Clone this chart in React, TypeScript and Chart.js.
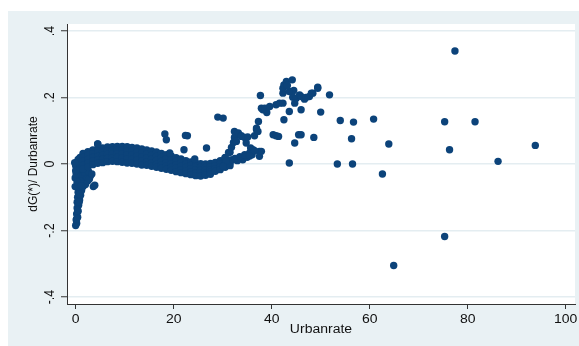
import React, { useEffect, useRef } from "react";
import { Chart, registerables } from "chart.js";

Chart.register(...registerables);

// ---- text / ticks ----
const xTickValues = [0, 20, 40, 60, 80, 100];
const xTickLabels = ["0", "20", "40", "60", "80", "100"];
const yTickValues = [-0.4, -0.2, 0, 0.2, 0.4];
const yTickLabels = ["-.4", "-.2", "0", ".2", ".4"];
const xTitle = "Urbanrate";
const yTitle = "dG(*)/ Durbanrate";

// ---- data: [Urbanrate, dG(*)/Durbanrate] ----
const steepPoints: [number, number][] = [
  [0.0, -0.185], [0.2, -0.178], [0.1, -0.168], [0.4, -0.16], [0.2, -0.15], [0.5, -0.142],
  [0.3, -0.132], [0.6, -0.124], [0.3, -0.115], [0.8, -0.108], [0.4, -0.1], [1.0, -0.094],
  [0.5, -0.085], [1.2, -0.08], [0.6, -0.072], [1.5, -0.068], [2.0, -0.062], [0.8, -0.06],
  [1.8, -0.052], [2.5, -0.05], [0.9, -0.048], [1.4, -0.04], [2.2, -0.038], [3.0, -0.036],
  [1.1, -0.03], [1.8, -0.025], [2.6, -0.022], [-0.1, -0.042], [-0.1, -0.068], [0.3, -0.055],
  [3.6, -0.068], [3.9, -0.064], [0.1, -0.03], [0.2, -0.018], [0.0, -0.005], [0.4, 0.006],
  [0.5, 0.014], [0.9, 0.02], [1.0, 0.008], [0.9, -0.004], [0.8, -0.016], [1.2, -0.012],
  [2.8, -0.045], [3.3, -0.03], [0.6, -0.09], [0.4, -0.14], [0.2, -0.165], [0.7, -0.115],
  [1.1, -0.065], [0.0, -0.02], [-0.2, 0.004],
];

const bandPoints: [number, number][] = [
  [1.5, 0.032], [1.5, 0.02], [1.5, 0.008], [1.5, -0.004], [1.5, -0.015],
  [2.5, 0.037], [2.5, 0.026], [2.5, 0.014], [2.5, 0.003], [2.5, -0.008],
  [3.5, 0.042], [3.5, 0.031], [3.5, 0.02], [3.5, 0.009], [3.5, -0.002],
  [4.5, 0.06], [4.5, 0.046], [4.5, 0.034], [4.5, 0.023], [4.5, 0.012], [4.5, 0.002],
  [5.5, 0.048], [5.5, 0.037], [5.5, 0.026], [5.5, 0.015], [5.5, 0.004],
  [6.5, 0.051], [6.5, 0.04], [6.5, 0.029], [6.5, 0.018], [6.5, 0.007],
  [7.5, 0.052], [7.5, 0.041], [7.5, 0.03], [7.5, 0.019], [7.5, 0.008],
  [8.5, 0.053], [8.5, 0.042], [8.5, 0.031], [8.5, 0.02], [8.5, 0.007],
  [9.5, 0.053], [9.5, 0.042], [9.5, 0.03], [9.5, 0.018], [9.5, 0.005],
  [10.5, 0.052], [10.5, 0.04], [10.5, 0.028], [10.5, 0.016], [10.5, 0.003],
  [11.5, 0.05], [11.5, 0.039], [11.5, 0.027], [11.5, 0.014], [11.5, 0.002],
  [12.5, 0.048], [12.5, 0.036], [12.5, 0.024], [12.5, 0.012], [12.5, 0.0],
  [13.5, 0.045], [13.5, 0.033], [13.5, 0.021], [13.5, 0.009], [13.5, -0.003],
  [14.5, 0.042], [14.5, 0.03], [14.5, 0.018], [14.5, 0.006], [14.5, -0.004],
  [15.5, 0.039], [15.5, 0.027], [15.5, 0.015], [15.5, 0.003], [15.5, -0.007],
  [16.5, 0.036], [16.5, 0.024], [16.5, 0.012], [16.5, 0.0], [16.5, -0.01],
  [17.5, 0.032], [17.5, 0.02], [17.5, 0.008], [17.5, -0.003], [17.5, -0.013],
  [18.5, 0.028], [18.5, 0.016], [18.5, 0.004], [18.5, -0.006], [18.5, -0.016],
  [19.5, 0.024], [19.5, 0.012], [19.5, 0.0], [19.5, -0.01], [19.5, -0.019],
  [20.5, 0.019], [20.5, 0.008], [20.5, -0.003], [20.5, -0.013], [20.5, -0.023],
  [21.5, 0.015], [21.5, 0.004], [21.5, -0.007], [21.5, -0.017], [21.5, -0.026],
  [22.5, 0.01], [22.5, 0.0], [22.5, -0.01], [22.5, -0.02], [22.5, -0.029],
  [23.5, 0.006], [23.5, -0.004], [23.5, -0.014], [23.5, -0.024], [23.5, -0.032],
  [24.5, 0.003], [24.5, -0.007], [24.5, -0.017], [24.5, -0.027], [24.5, -0.035],
  [25.5, 0.001], [25.5, -0.009], [25.5, -0.019], [25.5, -0.028], [25.5, -0.036],
  [26.5, 0.0], [26.5, -0.01], [26.5, -0.019], [26.5, -0.028], [26.5, -0.034],
  [27.5, 0.002], [27.5, -0.008], [27.5, -0.017], [27.5, -0.025], [27.5, -0.031],
  [28.5, 0.005], [28.5, -0.005], [28.5, -0.014], [28.5, -0.022],
  [29.5, 0.01], [29.5, 0.0], [29.5, -0.009], [29.5, -0.017],
  [30.5, 0.018], [30.5, 0.006], [30.5, -0.003], [30.5, -0.01],
  [31.5, 0.035], [31.5, 0.012], [31.5, 0.003], [31.5, -0.005],
];

const risePoints: [number, number][] = [
  [30.5, 0.02], [31.2, 0.035], [31.8, 0.05], [32.2, 0.065], [32.4, 0.08], [32.4, 0.098],
  [33.2, 0.093], [33.8, 0.085], [34.5, 0.08], [34.8, 0.063], [35.1, 0.081], [33.8, 0.083],
  [35.7, 0.048], [36.2, 0.043], [36.5, 0.085], [36.9, 0.103], [36.9, 0.108], [37.2, 0.098],
  [37.3, 0.128], [37.5, 0.038], [37.5, 0.023], [37.9, 0.038], [32.8, 0.068], [34.1, 0.013],
  [32.1, 0.013], [30.7, 0.008], [30.1, -0.007], [35.0, 0.02], [36.0, 0.028], [33.0, 0.01],
  [32.5, 0.017], [33.5, 0.022], [34.5, 0.028], [35.5, 0.033], [36.5, 0.04], [35.5, 0.024],
];

const upperPoints: [number, number][] = [
  [37.7, 0.206], [37.9, 0.168], [38.2, 0.163], [38.6, 0.168], [39.0, 0.155], [39.6, 0.173],
  [40.9, 0.178], [41.6, 0.183], [42.3, 0.183], [40.3, 0.088], [40.9, 0.085], [41.4, 0.083],
  [42.3, 0.213], [42.3, 0.228], [42.5, 0.238], [43.0, 0.248], [44.2, 0.253], [44.5, 0.221],
  [44.3, 0.201], [45.0, 0.198], [45.7, 0.208], [46.0, 0.203], [46.7, 0.195], [47.7, 0.203],
  [48.4, 0.213], [48.1, 0.213], [49.4, 0.231], [49.4, 0.228], [51.8, 0.208], [44.7, 0.183],
  [43.6, 0.158], [46.0, 0.163], [50.0, 0.156], [42.5, 0.133], [45.5, 0.088], [44.7, 0.063],
  [48.6, 0.08], [43.6, 0.003], [46.0, 0.088], [43.6, 0.218], [43.2, 0.236], [47.0, 0.2],
  [29.0, 0.141], [30.1, 0.138], [18.2, 0.09], [18.5, 0.073], [22.8, 0.085], [22.4, 0.086],
  [22.1, 0.043], [26.7, 0.048], [19.2, 0.033], [24.3, 0.015], [4.5, 0.06],
];

const outlierPoints: [number, number][] = [
  [54.0, 0.131], [56.7, 0.126], [60.8, 0.135], [56.3, 0.076], [53.4, 0.0], [56.5, 0.0],
  [77.4, 0.34], [75.3, 0.127], [81.5, 0.127], [63.9, 0.06], [76.3, 0.043], [93.8, 0.056],
  [86.2, 0.008], [62.6, -0.03], [75.3, -0.218], [64.9, -0.305],
];

const NAVY = "#0c437a";
const BG = "#e9f1f4";
const GRID = "#e4edf1";
const AXIS = "#333333";
const TEXT = "#111111";
const SX = 1.12;

export default function App() {
  const ref = useRef<HTMLCanvasElement | null>(null);

  useEffect(() => {
    const canvas = ref.current;
    if (!canvas) return;

    const all = [...steepPoints, ...bandPoints, ...risePoints, ...upperPoints, ...outlierPoints];

    const stataPlugin = {
      id: "stataLook",
      beforeDraw(chart: any) {
        const { ctx, chartArea: a, width, height } = chart;
        ctx.save();
        ctx.fillStyle = "#ffffff";
        ctx.fillRect(0, 0, width, height);
        ctx.fillStyle = BG;
        ctx.fillRect(8, 11, width - 8, height - 11);
        ctx.fillStyle = "#ffffff";
        ctx.fillRect(a.left, a.top, a.right - a.left, a.bottom - a.top);
        ctx.restore();
      },
      afterDraw(chart: any) {
        const { ctx, chartArea: a } = chart;
        const xs = chart.scales.x;
        const ys = chart.scales.y;
        ctx.save();
        ctx.fillStyle = TEXT;
        ctx.font = '12.5px "Liberation Sans", Arial, sans-serif';
        ctx.textAlign = "center";
        ctx.textBaseline = "alphabetic";
        xTickValues.forEach((v, i) => {
          const px = xs.getPixelForValue(v);
          ctx.save();
          ctx.translate(px, 323);
          ctx.scale(SX, 1);
          ctx.fillText(xTickLabels[i], 0, 0);
          ctx.restore();
        });
        ctx.save();
        ctx.translate((a.left + a.right) / 2, 333);
        ctx.scale(SX, 1);
        ctx.fillText(xTitle, 0, 0);
        ctx.restore();

        yTickValues.forEach((v, i) => {
          const py = ys.getPixelForValue(v);
          ctx.save();
          ctx.translate(54, py);
          ctx.scale(SX, 1);
          ctx.rotate(-Math.PI / 2);
          ctx.fillText(yTickLabels[i], 0, 0);
          ctx.restore();
        });

        ctx.save();
        ctx.font = '12px "Liberation Sans", Arial, sans-serif';
        ctx.translate(36.5, (a.top + a.bottom) / 2);
        ctx.scale(SX, 1);
        ctx.rotate(-Math.PI / 2);
        ctx.fillText(yTitle, 0, 0);
        ctx.restore();
        ctx.restore();
      },
    };

    const chart = new Chart(canvas, {
      type: "scatter",
      data: {
        datasets: [
          {
            data: all.map(([x, y]) => ({ x, y })),
            pointStyle: "circle",
            pointRadius: 3.7,
            backgroundColor: NAVY,
            borderColor: NAVY,
            borderWidth: 0,
          },
        ],
      },
      options: {
        animation: false,
        responsive: false,
        maintainAspectRatio: false,
        layout: { padding: { left: 0, right: 3, top: 24, bottom: 0 } },
        plugins: { legend: { display: false }, tooltip: { enabled: false } },
        scales: {
          x: {
            type: "linear",
            min: -1.77,
            max: 101.9,
            afterBuildTicks: (s: any) => {
              s.ticks = xTickValues.map((v) => ({ value: v }));
            },
            afterFit: (s: any) => {
              s.height = 42;
            },
            ticks: { display: false },
            grid: { drawOnChartArea: false, drawTicks: true, tickLength: 5, tickColor: AXIS, tickWidth: 1 },
            border: { display: true, color: AXIS, width: 1 },
          },
          y: {
            type: "linear",
            min: -0.421,
            max: 0.421,
            afterBuildTicks: (s: any) => {
              s.ticks = yTickValues.map((v) => ({ value: v }));
            },
            afterFit: (s: any) => {
              s.width = 67;
            },
            ticks: { display: false },
            grid: { color: GRID, lineWidth: 1.5, drawTicks: true, tickLength: 6, tickColor: AXIS, tickWidth: 1 },
            border: { display: true, color: AXIS, width: 1 },
          },
        },
      },
      plugins: [stataPlugin],
    });

    return () => chart.destroy();
  }, []);

  return (
    <div style={{ position: "absolute", left: 0, top: 0, width: 579, height: 346, background: "#fff" }}>
      <canvas ref={ref} width={579} height={346} style={{ display: "block" }} />
    </div>
  );
}
